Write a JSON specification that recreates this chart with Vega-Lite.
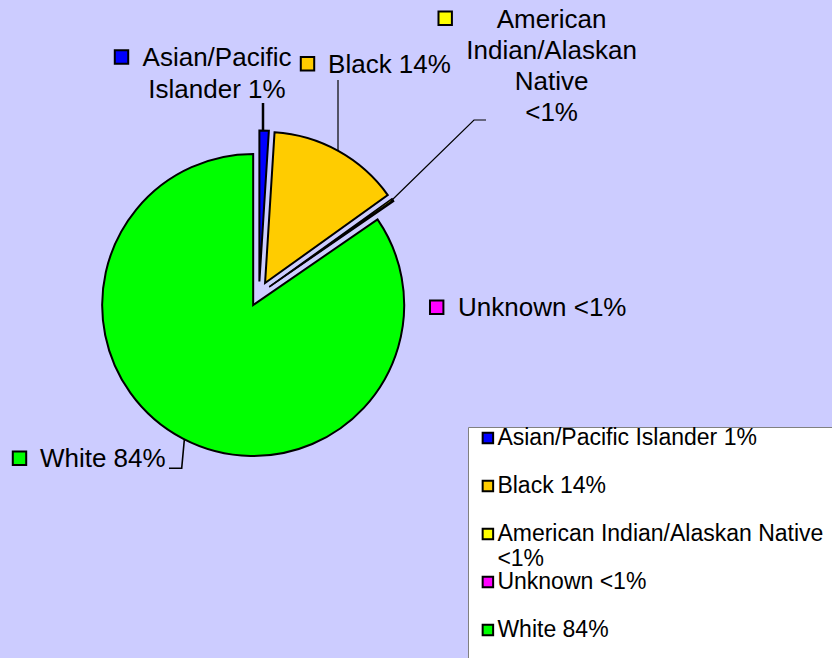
{
  "$schema": "https://vega.github.io/schema/vega-lite/v6.json",
  "width": 518,
  "height": 588,
  "autosize": {"type": "none"},
  "padding": {"left": 0, "top": 0, "right": 314, "bottom": 70},
  "background": "#ccccff",
  "config": {"view": {"stroke": null}, "font": "Liberation Sans"},
  "data": {
    "values": [
      {"cat": "Asian", "value": 1.0, "order": 1, "legend": "Asian/Pacific Islander 1%", "label": "Asian/Pacific\nIslander 1%"},
      {"cat": "Black", "value": 14.1, "order": 2, "legend": "Black 14%", "label": "Black 14%"},
      {"cat": "AmInd", "value": 0.2, "order": 3, "legend": "American Indian/Alaskan Native <1%", "label": "American\nIndian/Alaskan\nNative\n<1%"},
      {"cat": "Unknown", "value": 0.1, "order": 4, "legend": "Unknown <1%", "label": "Unknown <1%"},
      {"cat": "White", "value": 84.6, "order": 5, "legend": "White 84%", "label": "White 84%"}
    ]
  },
  "transform": [
    {"stack": "value", "groupby": [], "sort": [{"field": "order", "order": "ascending"}], "as": ["v0", "v1"]}
  ],
  "layer": [
    {
      "transform": [{"filter": "datum.cat == 'White'"}],
      "mark": {"type": "arc", "radius": 151, "stroke": "black", "strokeWidth": 2, "xOffset": -5.82, "yOffset": 11.06},
      "encoding": {
        "theta": {"field": "v0", "type": "quantitative", "scale": {"domain": [0, 100]}},
        "theta2": {"field": "v1"},
        "color": {
          "field": "legend", "type": "nominal",
          "scale": {
            "domain": ["Asian/Pacific Islander 1%", "Black 14%", "American Indian/Alaskan Native <1%", "Unknown <1%", "White 84%"],
            "range": ["#0000ff", "#ffcc00", "#ffff00", "#ff00ff", "#00ff00"]
          },
          "legend": {
            "orient": "none", "legendX": 468, "legendY": 427,
            "title": " ", "titleOrient": "right", "titlePadding": 30, "titleFontSize": 10,
            "symbolType": "square", "symbolSize": 110, "symbolStrokeColor": "black", "symbolStrokeWidth": 2, "symbolOpacity": 1,
            "labelFont": "Liberation Sans", "labelFontSize": 23, "labelColor": "black", "labelLimit": 1000,
            "labelExpr": "datum.label == 'American Indian/Alaskan Native <1%' ? ['American Indian/Alaskan Native', '<1%'] : datum.label == 'White 84%' ? [datum.label, '', ''] : [datum.label, '']",
            "padding": 0, "symbolOffset": 8.4, "labelOffset": -2,
            "clipHeight": 22, "rowPadding": 0,
            "fillColor": "white", "strokeColor": "#808080", "cornerRadius": 0
          }
        }
      }
    },
    {
      "transform": [{"filter": "datum.cat == 'Asian'"}],
      "mark": {"type": "arc", "radius": 151, "stroke": "black", "strokeWidth": 2, "xOffset": 0.39, "yOffset": -12.49},
      "encoding": {
        "theta": {"field": "v0", "type": "quantitative", "scale": {"domain": [0, 100]}},
        "theta2": {"field": "v1"},
        "color": {"field": "legend", "type": "nominal"}
      }
    },
    {
      "transform": [{"filter": "datum.cat == 'Black'"}],
      "mark": {"type": "arc", "radius": 151, "stroke": "black", "strokeWidth": 2, "xOffset": 6.06, "yOffset": -10.93},
      "encoding": {
        "theta": {"field": "v0", "type": "quantitative", "scale": {"domain": [0, 100]}},
        "theta2": {"field": "v1"},
        "color": {"field": "legend", "type": "nominal"}
      }
    },
    {
      "transform": [{"filter": "datum.cat == 'AmInd'"}],
      "mark": {"type": "arc", "radius": 151, "stroke": "black", "strokeWidth": 1.5, "xOffset": 10.21, "yOffset": -7.22},
      "encoding": {
        "theta": {"field": "v0", "type": "quantitative", "scale": {"domain": [0, 100]}},
        "theta2": {"field": "v1"},
        "color": {"field": "legend", "type": "nominal"}
      }
    },
    {
      "transform": [{"filter": "datum.cat == 'Unknown'"}],
      "mark": {"type": "arc", "radius": 151, "stroke": "black", "strokeWidth": 1.5, "xOffset": 10.27, "yOffset": -7.12},
      "encoding": {
        "theta": {"field": "v0", "type": "quantitative", "scale": {"domain": [0, 100]}},
        "theta2": {"field": "v1"},
        "color": {"field": "legend", "type": "nominal"}
      }
    },
    {
      "transform": [{"filter": "datum.cat == 'Asian'"}],
      "mark": {"type": "text", "radius": 228, "dx": -42, "dy": 0, "align": "center", "baseline": "alphabetic", "font": "Liberation Sans", "fontSize": 26, "lineHeight": 32, "lineBreak": "\n", "color": "black"},
      "encoding": {"theta": {"field": "v0", "type": "quantitative", "stack": null, "scale": {"domain": [0, 100]}}, "text": {"field": "label"}}
    },
    {
      "transform": [{"filter": "datum.cat == 'Black'"}],
      "mark": {"type": "text", "radius": 221, "dx": 116.6, "dy": 0, "align": "center", "baseline": "alphabetic", "font": "Liberation Sans", "fontSize": 26, "lineHeight": 32, "lineBreak": "\n", "color": "black"},
      "encoding": {"theta": {"field": "v0", "type": "quantitative", "stack": null, "scale": {"domain": [0, 100]}}, "text": {"field": "label"}}
    },
    {
      "transform": [{"filter": "datum.cat == 'AmInd'"}],
      "mark": {"type": "text", "radius": 360, "dx": 0, "dy": -56, "align": "center", "baseline": "alphabetic", "font": "Liberation Sans", "fontSize": 26, "lineHeight": 30.8, "lineBreak": "\n", "color": "black"},
      "encoding": {"theta": {"field": "v0", "type": "quantitative", "stack": null, "scale": {"domain": [0, 100]}}, "text": {"field": "label"}}
    },
    {
      "transform": [{"filter": "datum.cat == 'Unknown'"}],
      "mark": {"type": "text", "radius": 300, "dx": 37.3, "dy": 193.4, "align": "center", "baseline": "alphabetic", "font": "Liberation Sans", "fontSize": 26, "lineHeight": 32, "lineBreak": "\n", "color": "black"},
      "encoding": {"theta": {"field": "v0", "type": "quantitative", "stack": null, "scale": {"domain": [0, 100]}}, "text": {"field": "label"}}
    },
    {
      "transform": [{"filter": "datum.cat == 'White'"}],
      "mark": {"type": "text", "radius": 0, "dx": -156.2, "dy": 172.7, "align": "center", "baseline": "alphabetic", "font": "Liberation Sans", "fontSize": 26, "lineHeight": 32, "lineBreak": "\n", "color": "black"},
      "encoding": {"theta": {"field": "v0", "type": "quantitative", "stack": null, "scale": {"domain": [0, 100]}}, "text": {"field": "label"}}
    },
    {
      "transform": [{"filter": "datum.cat == 'Asian'"}],
      "mark": {"type": "point", "shape": "square", "size": 180, "filled": true, "fill": "#0000ff", "stroke": "black", "strokeWidth": 2, "opacity": 1, "xOffset": -137.5, "yOffset": -237},
      "encoding": {}
    },
    {
      "transform": [{"filter": "datum.cat == 'Black'"}],
      "mark": {"type": "point", "shape": "square", "size": 180, "filled": true, "fill": "#ffcc00", "stroke": "black", "strokeWidth": 2, "opacity": 1, "xOffset": 48.5, "yOffset": -230.3},
      "encoding": {}
    },
    {
      "transform": [{"filter": "datum.cat == 'AmInd'"}],
      "mark": {"type": "point", "shape": "square", "size": 180, "filled": true, "fill": "#ffff00", "stroke": "black", "strokeWidth": 2, "opacity": 1, "xOffset": 186.2, "yOffset": -275.7},
      "encoding": {}
    },
    {
      "transform": [{"filter": "datum.cat == 'Unknown'"}],
      "mark": {"type": "point", "shape": "square", "size": 180, "filled": true, "fill": "#ff00ff", "stroke": "black", "strokeWidth": 2, "opacity": 1, "xOffset": 177.7, "yOffset": 13.2},
      "encoding": {}
    },
    {
      "transform": [{"filter": "datum.cat == 'White'"}],
      "mark": {"type": "point", "shape": "square", "size": 180, "filled": true, "fill": "#00ff00", "stroke": "black", "strokeWidth": 2, "opacity": 1, "xOffset": -239.5, "yOffset": 164.2},
      "encoding": {}
    },
    {
      "transform": [{"filter": "datum.cat == 'Asian'"}],
      "mark": {"type": "point", "shape": "M4,-191L4,-163", "size": 4, "filled": false, "stroke": "black", "strokeWidth": 2.5, "opacity": 1},
      "encoding": {}
    },
    {
      "transform": [{"filter": "datum.cat == 'Black'"}],
      "mark": {"type": "point", "shape": "M79,-214L79,-143", "size": 4, "filled": false, "stroke": "black", "strokeWidth": 1.2, "opacity": 1},
      "encoding": {}
    },
    {
      "transform": [{"filter": "datum.cat == 'AmInd'"}],
      "mark": {"type": "point", "shape": "M227,-174L215,-174L132,-93", "size": 4, "filled": false, "stroke": "black", "strokeWidth": 1.2, "opacity": 1},
      "encoding": {}
    },
    {
      "transform": [{"filter": "datum.cat == 'White'"}],
      "mark": {"type": "point", "shape": "M-90,174.3L-77.3,174.3L-74.7,146", "size": 4, "filled": false, "stroke": "black", "strokeWidth": 1.6, "opacity": 1},
      "encoding": {}
    }
  ]
}
